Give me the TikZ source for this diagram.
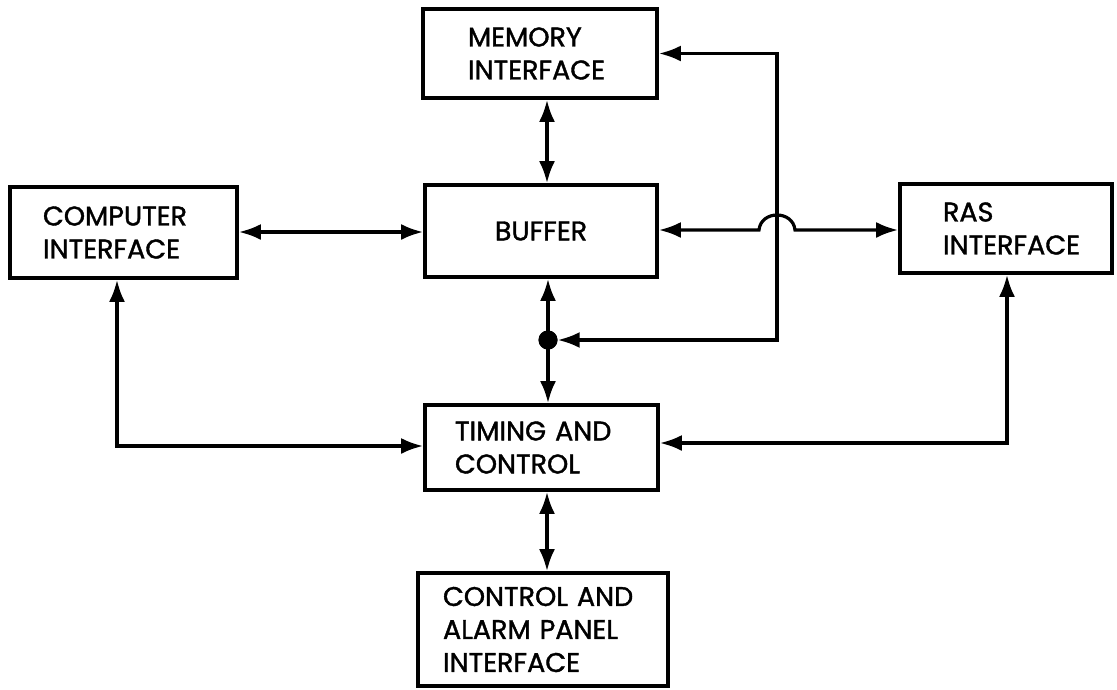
\documentclass[tikz,border=0pt]{standalone}
\usepackage{fontspec}
\setmainfont[FakeBold=1.4]{Poppins}
\usetikzlibrary{arrows.meta}
\begin{document}
\begin{tikzpicture}[x=1pt,y=-1pt,
  blk/.style={draw, line width=3.8pt, rectangle, align=left, anchor=center,
    font=\fontsize{27}{33}\selectfont, inner ysep=0pt},
  tipc/.tip={Latex[length=22pt,width=16pt]},
  conn/.style={line width=3.2pt, tipc-tipc},
]
\useasboundingbox (0,0) rectangle (1117,689);
\fill[white] (0,0) rectangle (1117,689);

\node[blk, minimum width=234pt, minimum height=89pt, text width=234pt-90pt] (mem) at (540,53.5) {MEMORY\\INTERFACE};
\node[blk, minimum width=232pt, minimum height=92pt, text width=232pt-20pt, align=center] (buf) at (541,231) {BUFFER};
\node[blk, minimum width=227pt, minimum height=91pt, text width=227pt-66pt] (comp) at (123.5,232.5) {COMPUTER\\INTERFACE};
\node[blk, minimum width=212pt, minimum height=89pt, text width=212pt-86pt] (ras) at (1006,228.5) {RAS\\INTERFACE};
\node[blk, minimum width=233pt, minimum height=85pt, text width=233pt-60pt] (tim) at (541.5,447.5) {TIMING AND\\CONTROL};
\node[blk, minimum width=250pt, minimum height=113pt, text width=250pt-50pt] (ctl) at (543,629.5) {CONTROL AND\\ALARM PANEL\\INTERFACE};

\node[circle, fill=black, minimum size=19pt, inner sep=0pt] (dot) at (548,340) {};
\coordinate (col) at (547,0);
\coordinate (rtop) at (777,53.5);
\coordinate (rbot) at (777,340);
\coordinate (hopL) at (759,230);
\coordinate (hopR) at (795,230);
\coordinate (lrow) at (117,446);
\coordinate (rrow) at (1007,443);

% memory <-> buffer
\draw[conn] (mem.south -| col) -- (buf.north -| col);
% computer <-> buffer
\draw[conn] (comp.east |- 0,232) -- (buf.west |- 0,232);
% buffer <-> RAS with hop
\draw[conn] (buf.east |- hopL) -- (hopL) .. controls (761,210) and (793,210) .. (hopR) -- (ras.west |- hopR);
% memory <-> dot loop
\draw[conn] (mem.east) -- (rtop) -- (rbot) -- (dot);
% buffer <-> timing via dot
\draw[conn] (buf.south -| dot) -- (tim.north -| dot);
\node[circle, fill=black, minimum size=19pt, inner sep=0pt] at (dot) {};
% computer <-> timing
\draw[conn] (comp.south -| lrow) -- (lrow) -- (tim.west |- lrow);
% RAS <-> timing
\draw[conn] (ras.south -| rrow) -- (rrow) -- (tim.east |- rrow);
% timing <-> control panel
\draw[conn] (tim.south -| col) -- (ctl.north -| col);
\end{tikzpicture}
\end{document}
